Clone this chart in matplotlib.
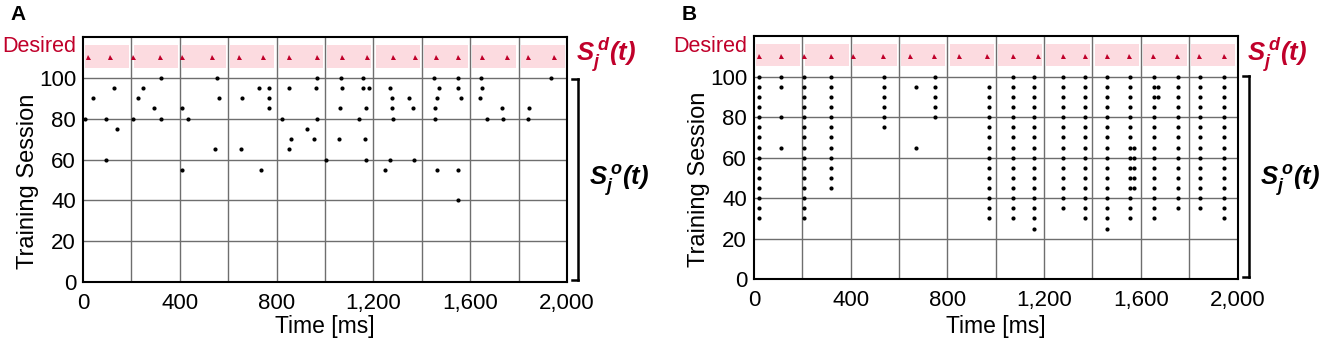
import numpy as np
import matplotlib
matplotlib.use("Agg")
import matplotlib.pyplot as plt
from matplotlib.lines import Line2D

### Plots formatting ###
plt.rcParams['font.family'] = ['Liberation Sans', 'DejaVu Sans']
plt.rcParams['mathtext.fontset'] = 'custom'
plt.rcParams['mathtext.it'] = 'Liberation Sans:bold:italic'
plt.rcParams['mathtext.rm'] = 'Liberation Sans:bold:italic'
plt.rcParams['mathtext.bf'] = 'Liberation Sans:bold:italic'

RED = '#c0002a'
PINK = '#fcdbe0'
GRID = '#6e6e6e'

# desired spike times [ms] (same target in both panels)
desired_times = [20, 110, 205, 320, 410, 535, 645, 745, 850, 965,
                 1070, 1175, 1280, 1370, 1460, 1550, 1650, 1750, 1840, 1945]
desired_level = 110

# panel A: output spikes (time [ms], training session)
A_times = [8, 43, 95, 95, 128, 142, 205, 226, 249, 295, 322, 322, 409, 409, 433,
           552, 547, 563, 652, 657, 727, 734, 770, 770, 770,
           822, 850, 850, 860, 926, 953, 968, 962, 968, 1004,
           1065, 1072, 1061, 1057, 1157, 1155, 1182, 1171, 1142, 1164, 1169,
           1267, 1278, 1278, 1280, 1349, 1362, 1267, 1366, 1249,
           1452, 1471, 1463, 1456, 1453, 1462, 1550, 1550, 1562, 1548, 1551,
           1646, 1649, 1642, 1668, 1731, 1737, 1842, 1840, 1932]
A_sessions = [80, 90, 80, 60, 95, 75, 80, 90, 95, 85, 100, 80, 85, 55, 80,
              100, 65, 90, 65, 90, 95, 55, 95, 90, 85,
              80, 95, 65, 70, 75, 70, 100, 95, 80, 60,
              100, 95, 85, 70, 100, 95, 95, 85, 80, 70, 60,
              95, 90, 85, 80, 90, 85, 60, 60, 55,
              100, 95, 90, 85, 80, 55, 100, 95, 90, 55, 40,
              100, 95, 90, 80, 85, 80, 85, 80, 100]

# panel B: recorded sessions (every 5th)
B_sessions_all = [100, 95, 90, 85, 80, 75, 70, 65, 60, 55, 50, 45, 40, 35, 30, 25]
# columns firing in every recorded session between top and bottom
B_col_times = [21, 207, 317, 538, 748, 971, 1072, 1157, 1280, 1368, 1461,
               1554, 1655, 1752, 1844, 1945]
B_col_top = [100, 100, 100, 100, 100, 95, 100, 100, 100, 100, 100,
             100, 100, 100, 100, 100]
B_col_bottom = [30, 30, 45, 75, 80, 30, 30, 25, 35, 30, 25,
                30, 30, 35, 35, 30]
# isolated spikes
B_times = [110, 110, 110, 110, 672, 672,
           1572, 1572, 1572, 1572, 1572, 1672, 1672]
B_sessions = [100, 95, 80, 65, 95, 65,
              65, 60, 55, 50, 45, 95, 90]


def px(x, y):
    return x / 1325.0, 1 - y / 345.0


def draw_panel(ax, times, sessions):
    ax.set_xlim(0, 2000)
    ax.set_ylim(0, 120)
    for y in [20, 40, 60, 80, 100]:
        ax.axhline(y, color=GRID, lw=1.0, zorder=1)
    for x in range(200, 2000, 200):
        ax.axvline(x, color=GRID, lw=1.0, zorder=1)
    # desired band, one pink box per 200 ms bin
    for x0 in range(0, 2000, 200):
        ax.fill_between([x0 + 9, x0 + 191], 105, 116, color=PINK, lw=0, zorder=0.5)
    ax.plot(desired_times, [desired_level] * len(desired_times), '^',
            color=RED, ms=3.6, mew=0, zorder=3)
    ax.plot(times, sessions, 'o', color='black', ms=3.0, mew=0, zorder=3)
    ax.set_yticks([0, 20, 40, 60, 80, 100])
    ax.set_xticks([0, 400, 800, 1200, 1600, 2000])
    ax.set_xticklabels(['0', '400', '800', '1,200', '1,600', '2,000'])
    ax.tick_params(axis='both', length=0, labelsize=16)
    ax.tick_params(axis='x', pad=8)
    ax.tick_params(axis='y', pad=5)
    for s in ax.spines.values():
        s.set_color('black')
        s.set_linewidth(1.5)


fig = plt.figure(figsize=(13.25, 3.45), dpi=100)

axA = fig.add_axes([83 / 1325, 63 / 345, 484 / 1325, 245 / 345])
draw_panel(axA, A_times, A_sessions)

bt, bs = list(B_times), list(B_sessions)
for t, top, bot in zip(B_col_times, B_col_top, B_col_bottom):
    for s in B_sessions_all:
        if bot <= s <= top:
            bt.append(t)
            bs.append(s)
axB = fig.add_axes([754 / 1325, 65.7 / 345, 483.5 / 1325, 243.3 / 345])
draw_panel(axB, bt, bs)

# labels around the panels
for left, right, ytop, ybot, letter, lx in [(83, 567, 77, 282, 'A', 10),
                                             (754, 1238, 74, 279, 'B', 682)]:
    fig.text(*px(lx, 14), letter, fontsize=15, fontweight='bold', va='center')
    fig.text(*px(left - 7, 47), 'Desired', color=RED, fontsize=15.5,
             ha='right', va='center')
    fig.text(*px(28, 181) if letter == 'A' else px(699, 179), 'Training Session',
             rotation=90, fontsize=17, ha='center', va='center')
    fig.text(*px((left + right) / 2, 327), 'Time [ms]', fontsize=16.5,
             ha='center', va='center')
    fig.text(*px(right + 9, 55), r'$S_j^{\,d}(t)$', color=RED, fontsize=18.5,
             ha='left', va='center')
    fig.text(*px(right + 22, 181), r'$S_j^{\,o}(t)$', color='black', fontsize=18.5,
             ha='left', va='center')
    bx = right + 11
    for xs, ys in [([bx, bx], [ytop + 2, ybot - 2]),
                   ([bx - 6, bx], [ytop + 2, ytop + 2]),
                   ([bx - 6, bx], [ybot - 2, ybot - 2])]:
        p = [px(x, y) for x, y in zip(xs, ys)]
        fig.add_artist(Line2D([p[0][0], p[1][0]], [p[0][1], p[1][1]],
                              color='black', lw=1.8))

fig.savefig('out.png', dpi=100)
